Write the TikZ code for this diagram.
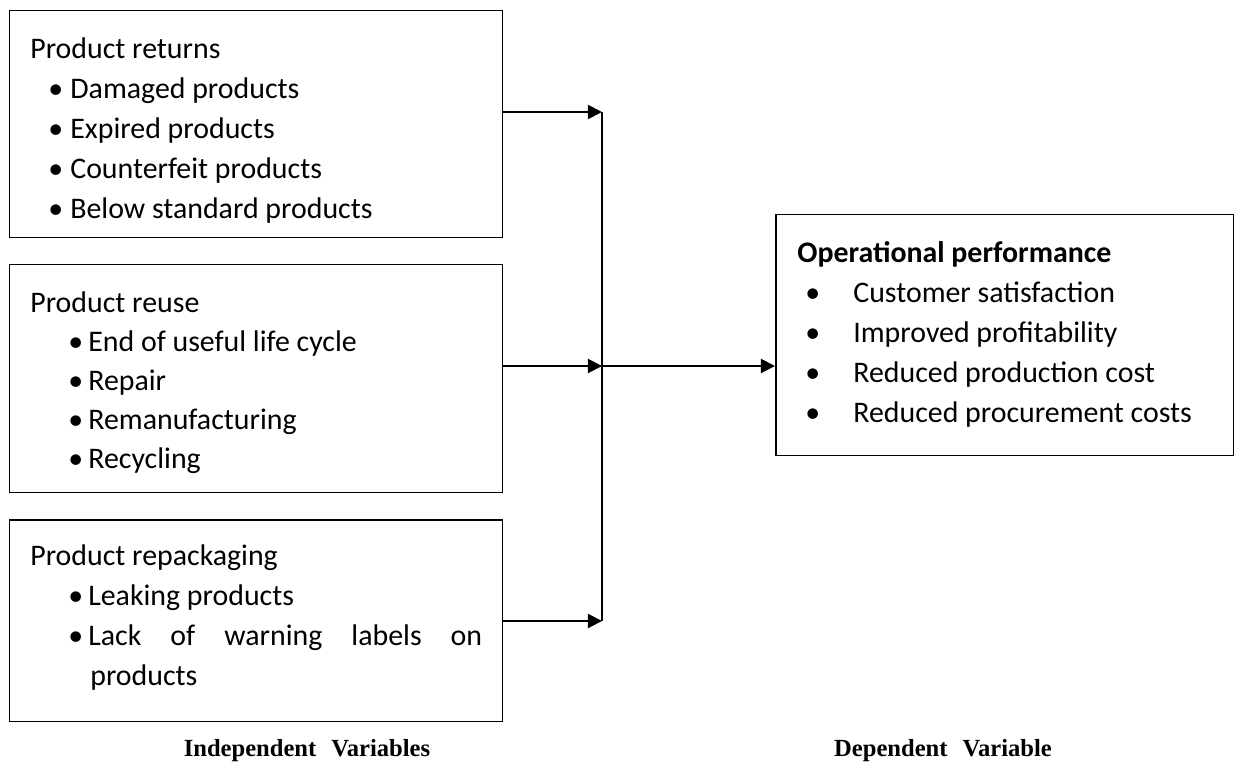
\documentclass[tikz,border=0pt]{standalone}
\usepackage{fontspec}
\setmainfont{Carlito}
\newfontfamily\capfont{Liberation Serif}
\usetikzlibrary{arrows.meta,positioning}
\newcommand{\bul}[2]{\hspace*{#1}\makebox[#2][l]{\textbullet}}

\begin{document}
\begin{tikzpicture}[x=0.02cm,y=-0.02cm,
    box/.style={draw,line width=0.85pt,anchor=north west,inner sep=0pt},
    txt/.style={anchor=north west,align=left,inner sep=0pt,
      font=\fontsize{17}{22.76}\selectfont},
    feed/.style={line width=1.1pt,-{Triangle[length=8pt,width=8pt]}},
    caption/.style={font=\capfont\bfseries\fontsize{14}{16}\selectfont}]
  \useasboundingbox (0,0) rectangle (1240,774);

  % independent variables
  \node[box,minimum width=9.86cm,minimum height=4.54cm] (ret) at (9,10) {};
  \node[box,minimum width=9.86cm,minimum height=4.56cm] (reuse) at (9,264) {};
  \node[box,minimum width=9.86cm,minimum height=4.04cm] (repack) at (9,519) {};

  \node[txt] (rettxt) at (30,37)
    {Product returns\\
     \bul{0.36cm}{0.44cm}Damaged products\\
     \bul{0.36cm}{0.44cm}Expired products\\
     \bul{0.36cm}{0.44cm}Counterfeit products\\
     \bul{0.36cm}{0.44cm}Below standard products};
  \node[txt,font=\fontsize{17}{22.2}\selectfont] (reusetxt) at (30,291)
    {Product reuse\\
     \bul{0.76cm}{0.4cm}End of useful life cycle\\
     \bul{0.76cm}{0.4cm}Repair\\
     \bul{0.76cm}{0.4cm}Remanufacturing\\
     \bul{0.76cm}{0.4cm}Recycling};
  \node[txt] (repacktxt) at (30,544)
    {Product repackaging\\
     \bul{0.76cm}{0.4cm}Leaking products\\
     \bul{0.76cm}{0.4cm}\makebox[7.88cm][s]{Lack of warning labels on}\\
     \hspace*{1.2cm}products};

  % dependent variable
  \node[box,minimum width=9.16cm,minimum height=4.82cm] (perf) at (775,214) {};
  \node[txt] (perftxt) at (797,241)
    {\textbf{Operational performance}\\
     \bul{0.16cm}{0.96cm}Customer satisfaction\\
     \bul{0.16cm}{0.96cm}Improved profitability\\
     \bul{0.16cm}{0.96cm}Reduced production cost\\
     \bul{0.16cm}{0.96cm}Reduced procurement costs};

  % connectors
  \coordinate (t1) at (602,112);
  \coordinate (t2) at (602,366);
  \coordinate (t3) at (602,621);
  \draw[line width=1.1pt] (t1) -- (t3);
  \draw[feed] (ret.east |- t1) -- (t1);
  \draw[feed] (reuse.east |- t2) -- (t2);
  \draw[feed] (repack.east |- t3) -- (t3);
  \draw[feed] (t2) -- (perf.west |- t2);

  \node[caption] (indep) at (307,751) {Independent\hspace{0.3cm}Variables};
  \node[caption] (dep) at (943,751) {Dependent\hspace{0.3cm}Variable};
\end{tikzpicture}
\end{document}
